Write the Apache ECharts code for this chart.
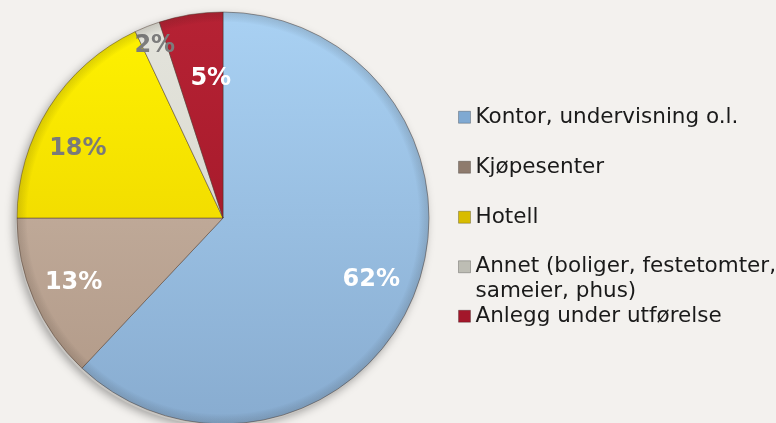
<!DOCTYPE html>
<html>
<head>
<meta charset="utf-8">
<script src="https://cdn.jsdelivr.net/npm/echarts@6/dist/echarts.min.js"></script>
<style>
  html, body { margin: 0; padding: 0; background: #f3f1ee; }
  #chart { width: 776px; height: 423px; }
</style>
</head>
<body>
<div id="chart"></div>
<script>
// andel per kategori (%)
const categories = ['Kontor, undervisning o.l.', 'Kjøpesenter', 'Hotell', 'Annet (boliger, festetomter,\nsameier, phus)', 'Anlegg under utførelse']
const shares = [62, 13, 18, 2, 5]

// slice colours (top, bottom), legend swatch and label colour
const sliceTop = ['#a9d1f3', '#cdb9a9', '#fff300', '#e4e4dc', '#b62234']
const sliceBottom = ['#88acd0', '#b09886', '#e6c800', '#d2d2c8', '#9a1424']
const swatch = ['#7fa9d2', '#8e7b6d', '#d8bc00', '#bdbdb4', '#a3172a']
const labelColor = ['#ffffff', '#ffffff', '#7a7a7a', '#7c7c7c', '#ffffff']
// where each percentage label sits: share of the radius, and turn off the mid angle (deg)
const labelRadius = [0.78, 0.79, 0.78, 0.9, 0.68]
const labelTurn = [1, 0, -7, 0, 4]

const center = [223, 218]
const R = 206

const chart = echarts.init(document.getElementById('chart'))

const grad = (i) => ({
  type: 'linear', x: 0, y: center[1] - R, x2: 0, y2: center[1] + R, global: true,
  colorStops: [{ offset: 0, color: sliceTop[i] }, { offset: 1, color: sliceBottom[i] }]
})

const legendText = {
  fontFamily: 'DejaVu Sans',
  fontSize: 21.5,
  lineHeight: 24.5,
  color: '#1a1a1a'
}

const legendBase = {
  orient: 'vertical',
  left: 458,
  padding: 0,
  icon: 'rect',
  itemWidth: 12,
  itemHeight: 12,
  selectedMode: false,
  textStyle: legendText
}

const legendItem = (i) => ({ name: categories[i], itemStyle: { color: swatch[i], borderColor: 'rgba(0,0,0,0.25)', borderWidth: 1 } })

const option = {
  backgroundColor: '#f3f1ee',
  animation: false,
  legend: [
    Object.assign({}, legendBase, {
      top: 105,
      itemGap: 25.5,
      data: [legendItem(0), legendItem(1), legendItem(2)]
    }),
    Object.assign({}, legendBase, {
      // empty first line so the swatch lines up with the first text line
      top: 230,
      formatter: (name) => '\n' + name,
      data: [legendItem(3)]
    }),
    Object.assign({}, legendBase, {
      top: 304,
      data: [legendItem(4)]
    })
  ],
  series: [{
    // soft drop shadow under the pie
    type: 'pie',
    center: [center[0] - 1, center[1] + 2],
    radius: [0, R],
    silent: true,
    label: { show: false },
    labelLine: { show: false },
    itemStyle: {
      color: '#c8c6c2',
      shadowBlur: 10,
      shadowColor: 'rgba(0,0,0,0.35)',
      shadowOffsetX: -2,
      shadowOffsetY: 2
    },
    data: [{ value: 1, name: 'shadow' }]
  }, {
    type: 'pie',
    center: center,
    radius: [0, R],
    startAngle: 90,
    clockwise: true,
    silent: true,
    percentPrecision: 0,
    itemStyle: {
      borderColor: 'rgba(70,50,40,0.45)',
      borderWidth: 1
    },
    label: {
      show: true,
      position: 'inside',
      formatter: '{d}%',
      fontFamily: 'DejaVu Sans',
      fontWeight: 'bold',
      fontSize: 24
    },
    labelLine: { show: false },
    labelLayout: function (p) {
      const r = p.labelRect
      const lx = r.x + r.width / 2 - center[0]
      const ly = r.y + r.height / 2 - center[1]
      const a = Math.atan2(ly, lx) + labelTurn[p.dataIndex] * Math.PI / 180
      const dist = labelRadius[p.dataIndex] * R
      return { dx: Math.cos(a) * dist - lx, dy: Math.sin(a) * dist - ly }
    },
    data: categories.map((name, i) => ({
      name: name,
      value: shares[i],
      itemStyle: { color: grad(i) },
      label: { color: labelColor[i] }
    }))
  }, {
    // darker rim for the bevelled look
    type: 'pie',
    center: center,
    radius: [R - 10, R],
    silent: true,
    z: 3,
    label: { show: false },
    labelLine: { show: false },
    itemStyle: {
      color: {
        type: 'radial', x: center[0], y: center[1], r: R, global: true,
        colorStops: [
          { offset: 0.95, color: 'rgba(0,0,0,0)' },
          { offset: 1, color: 'rgba(40,30,20,0.15)' }
        ]
      }
    },
    data: [{ value: 1, name: 'rim' }]
  }]
}

chart.setOption(option)
</script>
</body>
</html>
